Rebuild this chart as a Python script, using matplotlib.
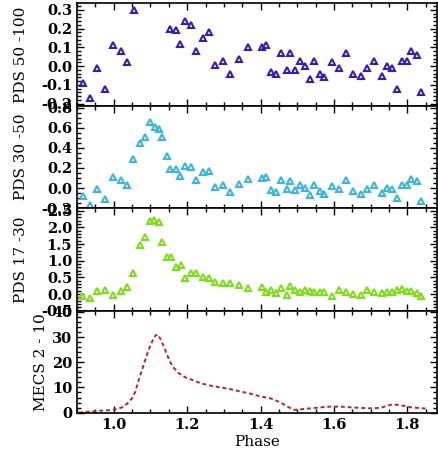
import numpy as np
import matplotlib
matplotlib.use("Agg")
import matplotlib.pyplot as plt
from matplotlib.ticker import MultipleLocator

plt.rcParams['font.family'] = ['DejaVu Serif']
plt.rcParams['font.weight'] = 'bold'

# PDS 50-100 keV
ph1 = [0.916, 0.935, 0.953, 0.975, 0.998, 1.020, 1.035, 1.055, 1.152, 1.170,
       1.180, 1.195, 1.211, 1.223, 1.243, 1.260, 1.277, 1.298, 1.318, 1.340,
       1.365, 1.403, 1.415, 1.429, 1.442, 1.456, 1.473, 1.480, 1.495, 1.507,
       1.521, 1.535, 1.547, 1.561, 1.574, 1.594, 1.615, 1.632, 1.653, 1.675,
       1.691, 1.709, 1.730, 1.745, 1.759, 1.773, 1.785, 1.800, 1.811, 1.827,
       1.838]
pds1 = [-0.09, -0.17, -0.01, -0.12, 0.11, 0.08, 0.02, 0.30, 0.20, 0.19,
        0.12, 0.24, 0.22, 0.08, 0.15, 0.18, 0.005, 0.03, -0.04, 0.04,
        0.10, 0.10, 0.11, -0.03, -0.04, 0.07, -0.02, 0.07, -0.02, 0.03,
        0.0, -0.07, 0.03, -0.04, -0.06, 0.02, -0.01, 0.07, -0.04, -0.05,
        -0.01, 0.03, -0.05, 0.0, -0.01, -0.12, 0.03, 0.03, 0.08, 0.06,
        -0.14]

# PDS 30-50 keV
ph2 = [0.916, 0.935, 0.953, 0.975, 0.998, 1.020, 1.035, 1.053, 1.071, 1.084,
       1.100, 1.111, 1.124, 1.132, 1.145, 1.153, 1.170, 1.180, 1.195, 1.211,
       1.223, 1.243, 1.260, 1.277, 1.298, 1.318, 1.340, 1.365, 1.403, 1.415,
       1.429, 1.442, 1.456, 1.473, 1.480, 1.495, 1.507, 1.521, 1.535, 1.547,
       1.561, 1.574, 1.594, 1.615, 1.632, 1.653, 1.675, 1.691, 1.709, 1.730,
       1.745, 1.759, 1.773, 1.785, 1.800, 1.811, 1.827, 1.838]
pds2 = [-0.08, -0.17, -0.01, -0.11, 0.11, 0.08, 0.03, 0.29, 0.45, 0.51,
        0.66, 0.61, 0.59, 0.51, 0.32, 0.19, 0.19, 0.12, 0.22, 0.21,
        0.08, 0.16, 0.17, 0.01, 0.03, -0.04, 0.04, 0.09, 0.10, 0.11,
        -0.02, -0.04, 0.08, -0.01, 0.07, -0.02, 0.03, 0.0, -0.07, 0.03,
        -0.03, -0.06, 0.02, -0.01, 0.08, -0.03, -0.06, -0.01, 0.03, -0.05,
        0.0, -0.01, -0.10, 0.03, 0.03, 0.09, 0.07, -0.13]

# PDS 17-30 keV
ph3 = [0.913, 0.935, 0.953, 0.975, 0.998, 1.020, 1.036, 1.053, 1.071, 1.084,
       1.100, 1.109, 1.123, 1.132, 1.145, 1.155, 1.170, 1.182, 1.195, 1.211,
       1.223, 1.243, 1.260, 1.277, 1.298, 1.318, 1.340, 1.365, 1.403, 1.415,
       1.429, 1.442, 1.456, 1.473, 1.480, 1.495, 1.507, 1.521, 1.535, 1.547,
       1.561, 1.574, 1.594, 1.615, 1.632, 1.653, 1.675, 1.691, 1.709, 1.730,
       1.745, 1.759, 1.773, 1.785, 1.800, 1.811, 1.827, 1.838]
pds3 = [-0.05, -0.13, 0.08, 0.13, -0.03, 0.10, 0.22, 0.63, 1.47, 1.72,
        2.18, 2.22, 2.17, 1.55, 1.12, 1.12, 0.80, 0.88, 0.47, 0.63,
        0.62, 0.50, 0.47, 0.37, 0.33, 0.32, 0.27, 0.18, 0.20, 0.07,
        0.12, 0.03, 0.17, -0.03, 0.23, 0.13, 0.07, 0.12, 0.10, 0.05,
        0.07, 0.05, -0.05, 0.12, 0.05, 0.0, -0.03, 0.13, 0.05, 0.03,
        0.07, 0.05, 0.12, 0.15, 0.10, 0.08, 0.03, -0.07]

# MECS 2-10 keV
ph4 = [0.905, 0.927, 0.955, 0.982, 1.005, 1.023, 1.036, 1.050, 1.059, 1.068,
       1.077, 1.086, 1.095, 1.105, 1.114, 1.120, 1.127, 1.136, 1.145, 1.155,
       1.164, 1.177, 1.195, 1.214, 1.236, 1.264, 1.291, 1.318, 1.345, 1.373,
       1.400, 1.427, 1.455, 1.473, 1.491, 1.509, 1.536, 1.564, 1.591, 1.618,
       1.645, 1.673, 1.700, 1.727, 1.745, 1.759, 1.773, 1.791, 1.809, 1.827,
       1.850]
mecs = [0.0, 0.3, 0.7, 0.9, 1.3, 2.1, 3.5, 5.7, 8.4, 13.0,
        17.0, 21.0, 25.0, 28.4, 30.7, 31.0, 29.3, 26.4, 23.0, 19.7,
        17.7, 15.7, 14.0, 13.0, 11.7, 10.7, 10.0, 9.3, 8.4, 7.5,
        6.4, 5.7, 4.0, 2.4, 1.1, 1.3, 1.7, 2.1, 2.4, 2.4,
        2.1, 1.9, 1.7, 1.9, 2.7, 3.3, 3.1, 2.7, 2.1, 1.9,
        1.6]

labels = ['PDS 50 -100', 'PDS 30 -50', 'PDS 17 -30', 'MECS 2 - 10']
colors = ['#3a1cb0', '#3cb6e0', '#7ede1c', '#b3262a']
ylims = [(-0.21, 0.335), (-0.2, 0.82), (-0.5, 2.58), (-0.2, 40.5)]
yticks = [[-0.2, -0.1, 0.0, 0.1, 0.2, 0.3],
          [-0.2, 0.0, 0.2, 0.4, 0.6, 0.8],
          [-0.5, 0.0, 0.5, 1.0, 1.5, 2.0, 2.5],
          [0, 10, 20, 30, 40]]
yminor = [0.02, 0.05, 0.1, 2]
yfmt = ['%.1f', '%.1f', '%.1f', '%d']
lpad = [9, 9, 9, 3]

fig, axes = plt.subplots(4, 1, figsize=(4.38, 4.53), dpi=100, sharex=True)
fig.subplots_adjust(left=0.176, right=0.997, top=0.993, bottom=0.088, hspace=0)

xs = [ph1, ph2, ph3]
ys = [pds1, pds2, pds3]
for i in range(3):
    axes[i].plot(xs[i], ys[i], linestyle='none', marker='^', markersize=5,
                 markerfacecolor='none', markeredgecolor=colors[i],
                 markeredgewidth=1.5)

axes[3].plot(ph4, mecs, color=colors[3], linestyle=(0, (2, 1.5)), linewidth=1.4)

for i, ax in enumerate(axes):
    ax.set_xlim(0.9, 1.88)
    ax.set_ylim(*ylims[i])
    ax.set_yticks(yticks[i])
    ax.set_yticklabels([yfmt[i] % v for v in yticks[i]])
    ax.yaxis.set_minor_locator(MultipleLocator(yminor[i]))
    ax.xaxis.set_major_locator(MultipleLocator(0.2))
    ax.xaxis.set_minor_locator(MultipleLocator(0.05))
    ax.tick_params(which='both', direction='in', top=True, right=True,
                   labelsize=10.5, width=1.0)
    ax.tick_params(which='major', length=5)
    ax.tick_params(which='minor', length=3)
    ax.set_ylabel(labels[i], fontsize=11, labelpad=lpad[i])
    for s in ax.spines.values():
        s.set_linewidth(1.2)

axes[3].set_xlabel('Phase', fontsize=11, labelpad=2)

fig.savefig('out.png', dpi=100)
